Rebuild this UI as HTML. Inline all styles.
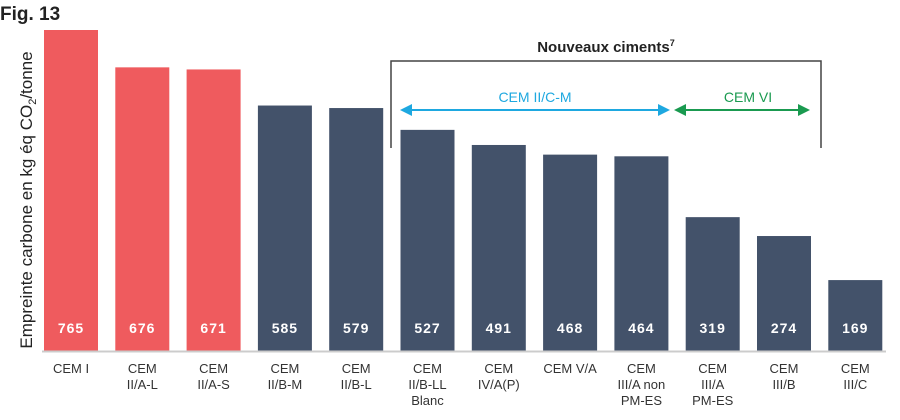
<!DOCTYPE html>
<html><head><meta charset="utf-8"><style>
body{margin:0;background:#fff;width:900px;height:415px;overflow:hidden;font-family:"Liberation Sans",sans-serif}
</style></head><body>
<svg id="chart" width="900" height="415" xmlns="http://www.w3.org/2000/svg">
<text x="0" y="20" font-size="19" font-weight="bold" fill="#222">Fig. 13</text>
<text transform="translate(32,200) rotate(-90)" text-anchor="middle" font-size="17" fill="#222">Empreinte carbone en kg éq CO<tspan font-size="11" dy="4">2</tspan><tspan dy="-4">/tonne</tspan></text>
<g id="bars"></g>
<line x1="42" y1="351.5" x2="886" y2="351.5" stroke="#ccc" stroke-width="2"/>
<text x="606" y="52" text-anchor="middle" font-size="15" font-weight="bold" fill="#222">Nouveaux ciments<tspan font-size="9" dy="-6">7</tspan></text>
<path d="M391 148 V61 H821 V148" fill="none" stroke="#444" stroke-width="1.5"/>
<g>
<line x1="406" y1="110" x2="664" y2="110" stroke="#1ea8e0" stroke-width="2"/>
<polygon points="400,110 412,104 412,116" fill="#1ea8e0"/><polygon points="670,110 658,104 658,116" fill="#1ea8e0"/>
<text x="535" y="102" text-anchor="middle" font-size="14" fill="#1ea8e0">CEM II/C-M</text></g>
<g>
<line x1="680" y1="110" x2="804" y2="110" stroke="#1a9a50" stroke-width="2"/>
<polygon points="674,110 686,104 686,116" fill="#1a9a50"/><polygon points="810,110 798,104 798,116" fill="#1a9a50"/>
<text x="748" y="102" text-anchor="middle" font-size="14" fill="#1a9a50">CEM VI</text></g>
</svg>
<script>
const categories=[["CEM I"],["CEM","II/A-L"],["CEM","II/A-S"],["CEM","II/B-M"],["CEM","II/B-L"],["CEM","II/B-LL","Blanc"],["CEM","IV/A(P)"],["CEM V/A"],["CEM","III/A non","PM-ES"],["CEM","III/A","PM-ES"],["CEM","III/B"],["CEM","III/C"]];
const values=[765,676,671,585,579,527,491,468,464,319,274,169];
const colorGroups=["red","red","red","navy","navy","navy","navy","navy","navy","navy","navy","navy"];
const NS="http://www.w3.org/2000/svg";
const baseY=351,scaleY=321/765,x0=44,pitch=71.3,bw=54;
function xPos(i){return x0+i*pitch;}
function yPos(v){return baseY-v*scaleY;}
const g=document.getElementById('bars');
values.forEach((v,i)=>{
 const r=document.createElementNS(NS,'rect');
 r.setAttribute('x',xPos(i));r.setAttribute('y',yPos(v));r.setAttribute('width',bw);r.setAttribute('height',baseY-yPos(v));
 r.setAttribute('fill',colorGroups[i]==="red"?"#ef5b5e":"#43526a");
 
 
 g.appendChild(r);
 const t=document.createElementNS(NS,'text');
 t.setAttribute('x',xPos(i)+bw/2);t.setAttribute('y',333);t.setAttribute('text-anchor','middle');
 t.setAttribute('font-size','14');t.setAttribute('font-weight','bold');t.setAttribute('fill','#fff');t.setAttribute('letter-spacing','1');
 t.textContent=v;
 
 
 g.appendChild(t);
 const l=document.createElementNS(NS,'text');
 l.setAttribute('text-anchor','middle');l.setAttribute('font-size','13');l.setAttribute('fill','#333');
 
 
 categories[i].forEach((s,k)=>{const ts=document.createElementNS(NS,'tspan');ts.setAttribute('x',xPos(i)+bw/2);ts.setAttribute('y',373+k*16);ts.textContent=s;l.appendChild(ts);});
 g.appendChild(l);
});
</script>
</body></html>
